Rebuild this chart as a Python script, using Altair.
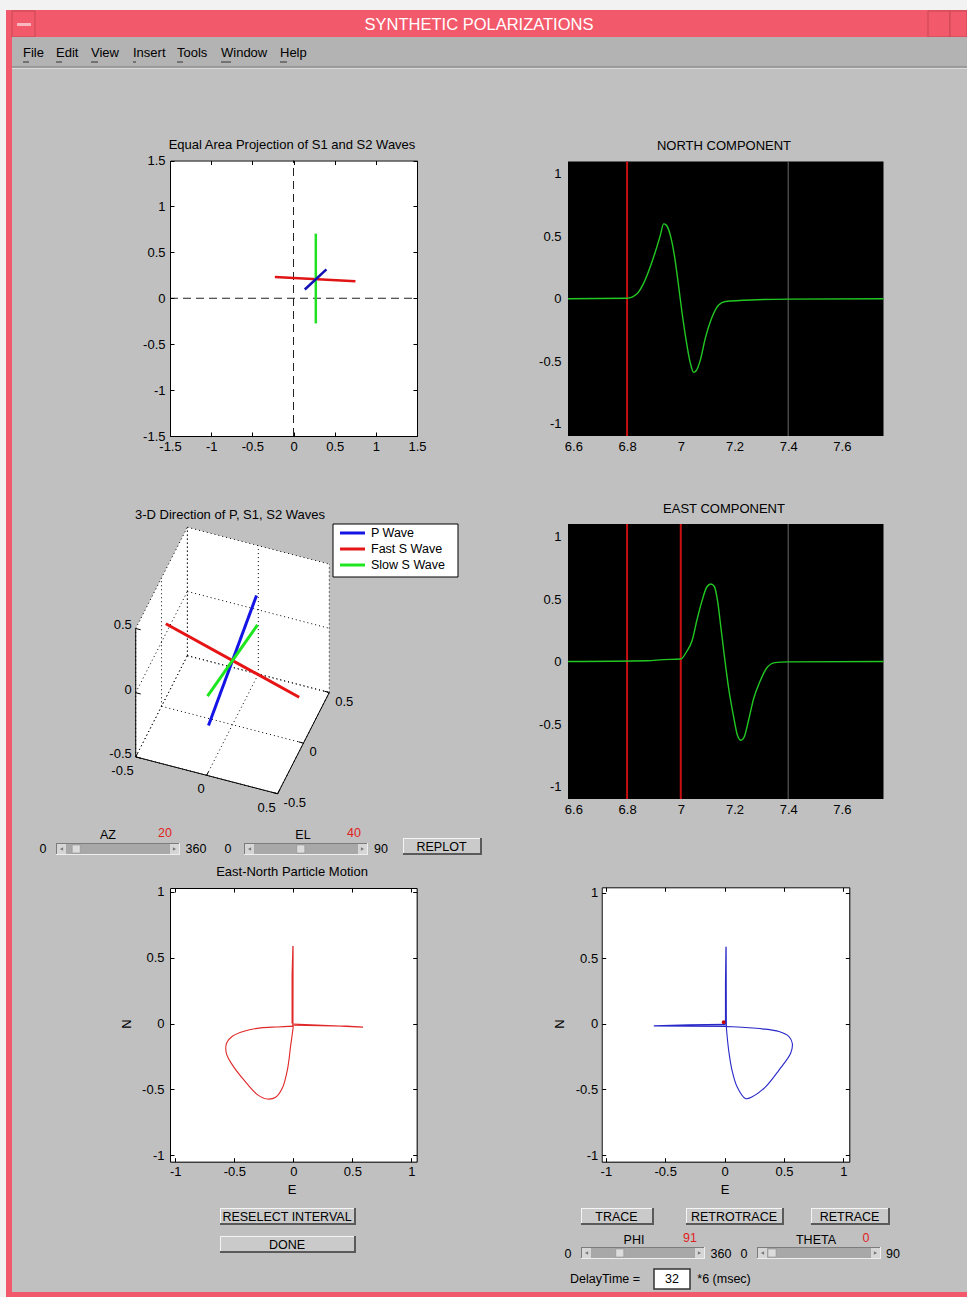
import math
import altair as alt
import numpy as np
import pandas as pd

W, H = 967, 1297
FONT = "Liberation Sans"
LFS = 13  # axis / title font size

# ---------------- values ----------------
AZ, EL = 20, 40
PHI, THETA = 91, 0
DELAY = 32

# Equal area projection of S1 / S2 (segments)
ea_x1 = [-0.226, 0.271, 0.137]
ea_y1 = [0.232, 0.704, 0.095]
ea_x2 = [0.752, 0.271, 0.400]
ea_y2 = [0.186, -0.274, 0.314]
ea_col = ["#e01414", "#22e022", "#1212b4"]

# North component
north_t = [6.58, 6.80, 6.837, 6.862, 6.887, 6.905, 6.924, 6.936, 6.946, 6.961, 6.976, 6.992,
           7.004, 7.019, 7.035, 7.048, 7.058, 7.073, 7.091, 7.116, 7.141, 7.166, 7.283, 7.401, 7.755]
north_v = [0.0, 0.004, 0.04, 0.125, 0.26, 0.375, 0.51, 0.60, 0.59, 0.51, 0.35, 0.10,
           -0.10, -0.32, -0.51, -0.59, -0.575, -0.49, -0.32, -0.15, -0.05, -0.022, -0.008, -0.003, 0.0]
# East component
east_t = [6.58, 6.874, 6.936, 7.0, 7.022, 7.042, 7.06, 7.079, 7.097, 7.112, 7.125, 7.137, 7.149,
          7.162, 7.178, 7.197, 7.211, 7.224, 7.236, 7.252, 7.271, 7.296, 7.32, 7.351, 7.395, 7.755]
east_v = [0.0, 0.006, 0.015, 0.02, 0.08, 0.166, 0.33, 0.485, 0.596, 0.62, 0.60, 0.485, 0.28,
          0.05, -0.21, -0.445, -0.59, -0.63, -0.605, -0.474, -0.30, -0.154, -0.052, -0.009, -0.003, 0.0]
north_picks = [6.8]
east_picks = [6.8, 7.0]
window_end = [7.4]

# East-North particle motion (red)
red_spike_seg = [0, 0, 0, 0, 1, 1, 1, 1]
red_spike_e = [-0.004, -0.003, -0.01, -0.01, 0.0, 0.59, 0.45, 0.0]
red_spike_n = [-0.02, 0.59, 0.37, 0.0, -0.005, -0.028, -0.02, -0.012]
red_loop_e = [0.0, -0.023, -0.05, -0.093, -0.15, -0.22, -0.305, -0.418, -0.517, -0.568,
              -0.565, -0.517, -0.418, -0.277, -0.136, 0.0]
red_loop_n = [-0.02, -0.17, -0.35, -0.49, -0.56, -0.574, -0.54, -0.43, -0.314, -0.224,
              -0.148, -0.097, -0.059, -0.033, -0.026, -0.02]
# retraced particle motion (blue)
blue_spike_seg = [0, 0, 0, 0, 1, 1, 1, 1]
blue_spike_e = [0.014, 0.012, 0.008, 0.008, 0.014, -0.596, -0.3, 0.005]
blue_spike_n = [-0.02, 0.587, 0.3, -0.005, -0.02, -0.015, -0.008, -0.005]
blue_loop_e = [0.014, 0.034, 0.062, 0.105, 0.175, 0.232, 0.345, 0.458, 0.556, 0.57,
               0.542, 0.458, 0.316, 0.175, 0.014]
blue_loop_n = [-0.02, -0.2, -0.352, -0.48, -0.569, -0.556, -0.48, -0.352, -0.224, -0.148,
               -0.097, -0.059, -0.038, -0.028, -0.02]
blue_dot_e = [-0.008]
blue_dot_n = [0.013]

# 3-D directions (half-vectors, drawn from -v to +v)
wave_names = ["P Wave", "Fast S Wave", "Slow S Wave"]
wave_dx = [0.064, -0.463, 0.109]
wave_dy = [0.289, -0.019, 0.185]
wave_dz = [0.297, 0.168, 0.163]
wave_col = ["#1414e6", "#e61414", "#1ee61e"]

ticks_ea = [-1.5, -1, -0.5, 0, 0.5, 1, 1.5]
ticks_t = [6.6, 6.8, 7.0, 7.2, 7.4, 7.6]
ticks_amp = [-1, -0.5, 0, 0.5, 1]
ticks_3d = [-0.5, 0, 0.5]

# ---------------- layout (pixels) ----------------
BOX_EA = (170, 160.5, 417, 436)
BOX_N = (568, 161.5, 883.5, 436)
BOX_E = (568, 524, 883.5, 799)
BOX_PM1 = (170, 888, 416.7, 1161.7)
BOX_PM2 = (601.7, 887.3, 849.3, 1161.7)
C3X, S3X, C3Y, S3Y = 232.5, 151.0, 660.5, 167.6

LEXPR = "datum.value < 0 ? '-' + format(-datum.value, '~g') : format(datum.value, '~g')"


def label_axis(orient, offset, values, pad):
    return alt.Axis(orient=orient, offset=offset, values=values, labelPadding=pad,
                    labelFont=FONT, labelFontSize=LFS, labelColor="black", labelExpr=LEXPR,
                    labelFlush=False, labelOverlap=False, domain=False, ticks=False,
                    tickSize=0, grid=False, title=None)


def tick_axis(orient, offset, values):
    return alt.Axis(orient=orient, offset=offset, values=values, labels=False, domain=True,
                    domainColor="black", domainWidth=1, ticks=True, tickSize=4,
                    tickColor="black", tickWidth=1, grid=False, title=None, zindex=1)


def panel(box, xdom, ydom, xticks, yticks, bg, data_fn, pad_x=5, pad_y=5, inward=True):
    L, T, R, B = box
    xs = alt.Scale(domain=xdom, range=[L, R], nice=False, zero=False)
    ys = alt.Scale(domain=ydom, range=[B, T], nice=False, zero=False)
    fr = pd.DataFrame({"x0": [xdom[0]], "x1": [xdom[1]], "y0": [ydom[0]], "y1": [ydom[1]]})
    layers = [alt.Chart(fr).mark_rect(fill=bg, strokeWidth=0).encode(
        x=alt.X("x0:Q", scale=xs, axis=label_axis("bottom", B - H, xticks, pad_x)),
        x2="x1:Q",
        y=alt.Y("y0:Q", scale=ys, axis=label_axis("left", -L, yticks, pad_y)),
        y2="y1:Q")]
    if inward:
        layers.append(alt.Chart(fr).mark_rect(opacity=0).encode(
            x=alt.X("x0:Q", scale=xs, axis=tick_axis("top", -B, xticks)), x2="x1:Q",
            y=alt.Y("y0:Q", scale=ys, axis=tick_axis("right", L - W, yticks)), y2="y1:Q"))
        layers.append(alt.Chart(fr).mark_rect(opacity=0).encode(
            x=alt.X("x0:Q", scale=xs, axis=tick_axis("bottom", T - H, xticks)), x2="x1:Q",
            y=alt.Y("y0:Q", scale=ys, axis=tick_axis("left", -R, yticks)), y2="y1:Q"))
    layers += data_fn(xs, ys, xdom, ydom)
    return alt.layer(*layers).resolve_axis(x="independent", y="independent")


def seg_chart(df, xs, ys, **mk):
    return alt.Chart(df).mark_rule(**mk).encode(
        x=alt.X("x0:Q", scale=xs, axis=None), x2="x1:Q",
        y=alt.Y("y0:Q", scale=ys, axis=None), y2="y1:Q")


def ea_layers(xs, ys, xdom, ydom):
    cross = pd.DataFrame({"x0": [0, xdom[0]], "x1": [0, xdom[1]],
                          "y0": [ydom[0], 0], "y1": [ydom[1], 0]})
    seg = pd.DataFrame({"x0": ea_x1, "x1": ea_x2, "y0": ea_y1, "y1": ea_y2, "c": ea_col})
    waves = alt.Chart(seg).mark_rule(strokeWidth=2.5).encode(
        x=alt.X("x0:Q", scale=xs, axis=None), x2="x1:Q",
        y=alt.Y("y0:Q", scale=ys, axis=None), y2="y1:Q",
        color=alt.Color("c:N", scale=None))
    return [seg_chart(cross, xs, ys, color="#222222", strokeWidth=1, strokeDash=[8, 5]), waves]


def wave_fn(t, v, picks):
    def fn(xs, ys, xdom, ydom):
        mk = pd.DataFrame({"x0": picks + window_end, "x1": picks + window_end,
                           "y0": [ydom[0]] * (len(picks) + 1), "y1": [ydom[1]] * (len(picks) + 1),
                           "c": ["#c81010"] * len(picks) + ["#6a6a6a"],
                           "w": [2] * len(picks) + [1]})
        rules = alt.Chart(mk).mark_rule().encode(
            x=alt.X("x0:Q", scale=xs, axis=None), x2="x1:Q",
            y=alt.Y("y0:Q", scale=ys, axis=None), y2="y1:Q",
            color=alt.Color("c:N", scale=None), strokeWidth=alt.StrokeWidth("w:Q", scale=None))
        df = pd.DataFrame({"i": range(len(t)), "t": t, "v": v})
        line = alt.Chart(df).mark_line(color="#22c822", strokeWidth=1.4, interpolate="monotone").encode(
            x=alt.X("t:Q", scale=xs, axis=None), y=alt.Y("v:Q", scale=ys, axis=None), order="i:Q")
        return [rules, line]
    return fn


def pm_fn(sp_seg, sp_e, sp_n, lp_e, lp_n, col, dot=None):
    def fn(xs, ys, xdom, ydom):
        sp = pd.DataFrame({"i": range(len(sp_e)), "s": sp_seg, "e": sp_e, "n": sp_n})
        lp = pd.DataFrame({"i": range(len(lp_e)), "e": lp_e, "n": lp_n})
        out = [
            alt.Chart(sp).mark_line(color=col, strokeWidth=1.3).encode(
                x=alt.X("e:Q", scale=xs, axis=None), y=alt.Y("n:Q", scale=ys, axis=None),
                detail="s:N", order="i:Q"),
            alt.Chart(lp).mark_line(color=col, strokeWidth=1.1, interpolate="catmull-rom").encode(
                x=alt.X("e:Q", scale=xs, axis=None), y=alt.Y("n:Q", scale=ys, axis=None),
                order="i:Q"),
        ]
        if dot is not None:
            dd = pd.DataFrame({"e": dot[0], "n": dot[1]})
            out.append(alt.Chart(dd).mark_point(filled=True, color="#c80000", size=14, opacity=1).encode(
                x=alt.X("e:Q", scale=xs, axis=None), y=alt.Y("n:Q", scale=ys, axis=None)))
        return out
    return fn


p_ea = panel(BOX_EA, [-1.5, 1.5], [-1.5, 1.5], ticks_ea, ticks_ea, "white", ea_layers, 4, 5)
p_n = panel(BOX_N, [6.58, 7.755], [-1.1, 1.1], ticks_t, ticks_amp, "black",
            wave_fn(north_t, north_v, north_picks), 4, 7, inward=False)
p_e = panel(BOX_E, [6.58, 7.755], [-1.1, 1.1], ticks_t, ticks_amp, "black",
            wave_fn(east_t, east_v, east_picks), 4, 7, inward=False)
p_pm1 = panel(BOX_PM1, [-1.045, 1.045], [-1.05, 1.03], ticks_amp, ticks_amp, "white",
              pm_fn(red_spike_seg, red_spike_e, red_spike_n, red_loop_e, red_loop_n, "#e02828"), 4, 6)
p_pm2 = panel(BOX_PM2, [-1.035, 1.05], [-1.05, 1.04], ticks_amp, ticks_amp, "white",
              pm_fn(blue_spike_seg, blue_spike_e, blue_spike_n, blue_loop_e, blue_loop_n, "#2828c8",
                    (blue_dot_e, blue_dot_n)), 4, 4)

# ---------------- 3-D panel ----------------
A, E_ = math.radians(AZ), math.radians(EL)


def proj(x, y, z):
    u = math.cos(A) * x + math.sin(A) * y
    v = -math.sin(E_) * math.sin(A) * x + math.sin(E_) * math.cos(A) * y + math.cos(E_) * z
    return u, v


X3 = alt.Scale(domain=[-1, 1], range=[C3X - S3X, C3X + S3X], nice=False, zero=False)
Y3 = alt.Scale(domain=[-1, 1], range=[C3Y + S3Y, C3Y - S3Y], nice=False, zero=False)


def segs3(lst):
    rows = []
    for p, q in lst:
        u0, v0 = proj(*p)
        u1, v1 = proj(*q)
        rows.append({"x0": u0, "y0": v0, "x1": u1, "y1": v1})
    return pd.DataFrame(rows)


lo, hi = ticks_3d[0], ticks_3d[-1]
top_pts = [proj(lo, lo, hi), proj(lo, hi, hi), proj(hi, hi, hi)]
bot_pts = [proj(lo, lo, lo), proj(hi, lo, lo), proj(hi, hi, lo)]
us = sorted(set([p[0] for p in top_pts] + [p[0] for p in bot_pts]))
hexdf = pd.DataFrame({
    "u": us,
    "vt": np.interp(us, [p[0] for p in top_pts], [p[1] for p in top_pts]),
    "vb": np.interp(us, [p[0] for p in bot_pts], [p[1] for p in bot_pts]),
})
fill3 = alt.Chart(hexdf).mark_area(color="white", opacity=1, orient="vertical").encode(
    x=alt.X("u:Q", scale=X3, axis=None), y=alt.Y("vb:Q", scale=Y3, axis=None), y2="vt:Q")

grid = []
for c in ticks_3d:
    grid += [((c, lo, lo), (c, hi, lo)), ((lo, c, lo), (hi, c, lo)),
             ((lo, c, lo), (lo, c, hi)), ((lo, lo, c), (lo, hi, c)),
             ((c, hi, lo), (c, hi, hi)), ((lo, hi, c), (hi, hi, c))]
grid3 = seg_chart(segs3(grid), X3, Y3, color="black", strokeWidth=1, strokeDash=[1, 3])
axes_l = [((lo, lo, lo), (hi, lo, lo)), ((hi, lo, lo), (hi, hi, lo)), ((lo, lo, lo), (lo, lo, hi))]
tl = 0.035
for c in ticks_3d:
    axes_l += [((c, lo, lo), (c, lo + tl, lo)), ((hi, c, lo), (hi - tl, c, lo)),
               ((lo, lo, c), (lo + tl, lo, c))]
axes3 = seg_chart(segs3(axes_l), X3, Y3, color="black", strokeWidth=1)

wrows = []
for nm, dx, dy, dz, col in zip(wave_names, wave_dx, wave_dy, wave_dz, wave_col):
    u0, v0 = proj(-dx, -dy, -dz)
    u1, v1 = proj(dx, dy, dz)
    wrows.append({"x0": u0, "y0": v0, "x1": u1, "y1": v1, "c": col, "wave": nm})
waves3 = alt.Chart(pd.DataFrame(wrows)).mark_rule(strokeWidth=3).encode(
    x=alt.X("x0:Q", scale=X3, axis=None), x2="x1:Q",
    y=alt.Y("y0:Q", scale=Y3, axis=None), y2="y1:Q",
    color=alt.Color("c:N", scale=None))


def fmt(v):
    return ("-" if v < 0 else "") + ("%g" % abs(v))


def lab3(points, align, dx, dy):
    rows = []
    for (x, y, z), val in points:
        u, v = proj(x, y, z)
        rows.append({"u": u, "v": v, "t": fmt(val)})
    return alt.Chart(pd.DataFrame(rows)).mark_text(
        align=align, baseline="middle", dx=dx, dy=dy, font=FONT, fontSize=LFS, color="black").encode(
        x=alt.X("u:Q", scale=X3, axis=None), y=alt.Y("v:Q", scale=Y3, axis=None), text="t:N")


lz = lab3([((lo, lo, c), c) for c in ticks_3d], "right", -4, -3)
lx = lab3([((c, lo, lo), c) for c in ticks_3d], "right", -2, 14)
ly = lab3([((hi, c, lo), c) for c in ticks_3d], "left", 6, 9)
p3d = alt.layer(fill3, grid3, axes3, waves3, lz, lx, ly)

# ---------------- GUI chrome (pixel layout) ----------------
XS_UI = alt.Scale(domain=[0, W], range=[0, W], nice=False, zero=False)
YS_UI = alt.Scale(domain=[0, H], range=[0, H], nice=False, zero=False)
PINK, PINK_D = "#f25a6b", "#c84656"


def ui_rects(rows):
    df = pd.DataFrame(rows, columns=["x0", "y0", "x1", "y1", "fill", "stroke", "sw"])
    return alt.Chart(df).mark_rect().encode(
        x=alt.X("x0:Q", scale=XS_UI, axis=None), x2="x1:Q",
        y=alt.Y("y0:Q", scale=YS_UI, axis=None), y2="y1:Q",
        fill=alt.Fill("fill:N", scale=None), stroke=alt.Stroke("stroke:N", scale=None),
        strokeWidth=alt.StrokeWidth("sw:Q", scale=None))


def ui_rules(rows):
    df = pd.DataFrame(rows, columns=["x0", "y0", "x1", "y1", "c", "w"])
    return alt.Chart(df).mark_rule().encode(
        x=alt.X("x0:Q", scale=XS_UI, axis=None), x2="x1:Q",
        y=alt.Y("y0:Q", scale=YS_UI, axis=None), y2="y1:Q",
        color=alt.Color("c:N", scale=None), strokeWidth=alt.StrokeWidth("w:Q", scale=None))


bg_rows = [
    (0, 0, W, 10, "#f2f2f2", "transparent", 0),
    (0, 0, 6, H, "#f2f2f2", "transparent", 0),
    (6, 10, 12, H, PINK, "transparent", 0),
    (6, 1292, W, H, PINK, "transparent", 0),
    (12, 10, W, 37, PINK, "transparent", 0),
    (12, 11, 35, 37, PINK, PINK_D, 1),
    (17, 23, 31, 26, "#f8b8c0", "transparent", 0),
    (928, 11, 950, 37, PINK, PINK_D, 1),
    (950, 11, W, 37, PINK, PINK_D, 1),
    (12, 37, W, 67, "#b3b3b3", "transparent", 0),
]
bg_lines = [(12, 67, W, 67, "#7a7a7a", 1), (12, 68.5, W, 68.5, "#dadada", 1)]
menu_items = ["File", "Edit", "View", "Insert", "Tools", "Window", "Help"]
menu_x = [23, 56, 91, 133, 177, 221, 280]
menu_ul = [6, 6, 7, 3, 6, 10, 7]
for mx, mw in zip(menu_x, menu_ul):
    bg_lines.append((mx, 62, mx + mw, 62, "#333333", 1))

buttons = [("REPLOT", 403, 838, 482, 855), ("RESELECT INTERVAL", 220, 1208, 356, 1225),
           ("DONE", 220, 1236, 356, 1253), ("TRACE", 581, 1208, 654, 1225),
           ("RETROTRACE", 686, 1208, 784, 1225), ("RETRACE", 811, 1208, 890, 1225)]
sliders = [("AZ", 56, 843, 180, 855, AZ, 360), ("EL", 244, 843, 368, 855, EL, 90),
           ("PHI", 581, 1247, 705, 1259, PHI, 360), ("THETA", 757, 1247, 881, 1259, THETA, 90)]

w_rows = []
for _, x0, y0, x1, y1 in buttons:
    w_rows += [(x0, y0, x1, y1, "#5a5a5a", "transparent", 0),
               (x0, y0, x1 - 2, y1 - 2, "#f4f4f4", "transparent", 0),
               (x0 + 1, y0 + 1, x1 - 2, y1 - 2, "#cacaca", "transparent", 0)]
pt_rows = []
for _, x0, y0, x1, y1, val, vmax in sliders:
    tlo, thi = x0 + 11, x1 - 19
    tx = tlo + (thi - tlo) * val / vmax
    w_rows += [(x0, y0, x1, y1, "#eeeeee", "transparent", 0),
               (x0, y0, x1 - 1, y1 - 1, "#7c7c7c", "transparent", 0),
               (x0 + 1, y0 + 1, x1 - 1, y1 - 1, "#a8a8a8", "transparent", 0),
               (x0 + 1, y0 + 1, x0 + 10, y1 - 1, "#d6d6d6", "transparent", 0),
               (x1 - 10, y0 + 1, x1 - 1, y1 - 1, "#d6d6d6", "transparent", 0),
               (tx, y0 + 2, tx + 8, y1 - 2, "#dcdcdc", "#8a8a8a", 0.5)]
    yc = (y0 + y1) / 2
    pt_rows += [(x0 + 5.5, yc, "triangle-left"), (x1 - 5.5, yc, "triangle-right")]
w_rows += [(654, 1269, 690, 1289, "white", "#333333", 1.5),
           (333, 524, 458, 577, "white", "black", 1)]
leg_lines = []
for nm, col, yy in zip(wave_names, wave_col, [533, 549, 565]):
    leg_lines.append((340, yy, 365, yy, col, 3))

pts = pd.DataFrame(pt_rows, columns=["x", "y", "shape"])
arrows = alt.Chart(pts).mark_point(filled=True, size=14, color="#7a7a7a", opacity=1).encode(
    x=alt.X("x:Q", scale=XS_UI, axis=None), y=alt.Y("y:Q", scale=YS_UI, axis=None),
    shape=alt.Shape("shape:N", scale=None))

RED = "#e02020"
BT = 12.5
txt_c = [
    ("SYNTHETIC POLARIZATIONS", 479, 25, "white", 16.5, 0),
    ("Equal Area Projection of S1 and S2 Waves", 292, 145, "black", LFS, 0),
    ("NORTH COMPONENT", 724, 146, "black", LFS, 0),
    ("3-D Direction of P, S1, S2 Waves", 230, 515, "black", LFS, 0),
    ("EAST COMPONENT", 724, 509, "black", LFS, 0),
    ("East-North Particle Motion", 292, 872, "black", LFS, 0),
    ("E", 292, 1190, "black", LFS, 0), ("E", 725, 1190, "black", LFS, 0),
    ("N", 127, 1024, "black", LFS, 270), ("N", 560, 1024, "black", LFS, 270),
    ("AZ", 108, 835, "black", BT, 0), (str(AZ), 165, 833, RED, BT, 0),
    ("EL", 303, 835, "black", BT, 0), (str(EL), 354, 833, RED, BT, 0),
    ("0", 43, 849, "black", BT, 0), ("360", 196, 849, "black", BT, 0),
    ("0", 228, 849, "black", BT, 0), ("90", 381, 849, "black", BT, 0),
    ("PHI", 634, 1240, "black", BT, 0), (str(PHI), 690, 1238, RED, BT, 0),
    ("THETA", 816, 1240, "black", BT, 0), (str(THETA), 866, 1238, RED, BT, 0),
    ("0", 568, 1254, "black", BT, 0), ("360", 721, 1254, "black", BT, 0),
    ("0", 744, 1254, "black", BT, 0), ("90", 893, 1254, "black", BT, 0),
    ("DelayTime =", 605, 1279, "black", BT, 0), (str(DELAY), 672, 1279, "black", BT, 0),
    ("*6 (msec)", 724, 1279, "black", BT, 0),
]
for name, x0, y0, x1, y1 in buttons:
    txt_c.append((name, (x0 + x1) / 2 - 1, (y0 + y1) / 2, "black", BT, 0))
txt_l = [(m, x, 53, "black", 13, 0) for m, x in zip(menu_items, menu_x)]
txt_l += [(nm, 371, yy, "black", BT, 0) for nm, yy in zip(wave_names, [533, 549, 565])]


def ui_text(rows, align):
    df = pd.DataFrame(rows, columns=["t", "x", "y", "c", "s", "a"])
    return alt.Chart(df).mark_text(align=align, baseline="middle", font=FONT).encode(
        x=alt.X("x:Q", scale=XS_UI, axis=None), y=alt.Y("y:Q", scale=YS_UI, axis=None),
        text="t:N", color=alt.Color("c:N", scale=None), size=alt.Size("s:Q", scale=None),
        angle=alt.Angle("a:Q", scale=None))


chart = alt.layer(
    ui_rects(bg_rows), ui_rules(bg_lines),
    p_ea, p_n, p_e, p3d, p_pm1, p_pm2,
    ui_rects(w_rows), ui_rules(leg_lines), arrows,
    ui_text(txt_c, "center"), ui_text(txt_l, "left"),
).resolve_scale(
    x="independent", y="independent", color="independent", fill="independent",
    stroke="independent", strokeWidth="independent", size="independent",
    angle="independent", shape="independent",
).properties(
    width=W, height=H, autosize=alt.AutoSizeParams(type="none"), padding=0,
    background="#c0c0c0",
).configure_view(stroke="transparent")

chart.save("out.html", embed_options={"renderer": "svg", "actions": False})
